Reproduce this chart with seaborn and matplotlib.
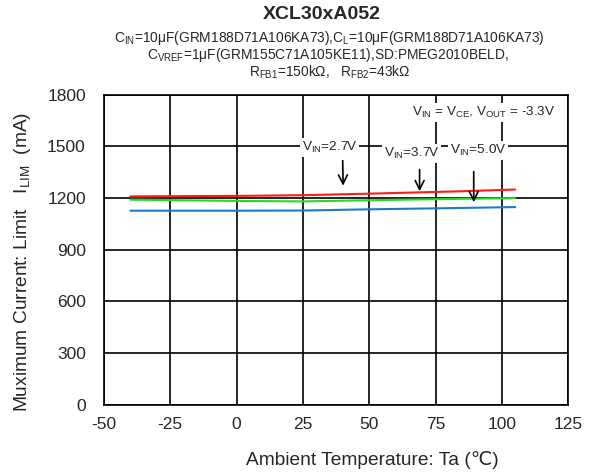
import numpy as np
import pandas as pd
import matplotlib
matplotlib.use("Agg")
import matplotlib.pyplot as plt
import seaborn as sns

# data
temp = [-40, 0, 25, 50, 85, 105]
ilim_27 = [1210, 1213, 1217, 1226, 1240, 1250]
ilim_37 = [1191, 1184, 1181, 1188, 1196, 1200]
ilim_50 = [1127, 1127, 1128, 1135, 1143, 1148]
series = ["2.7V", "3.7V", "5.0V"]
colors = ["#ff1a1a", "#22dd22", "#1a7ad0"]

df = pd.DataFrame({
    "Ta": temp * 3,
    "ILIM": ilim_27 + ilim_37 + ilim_50,
    "VIN": [series[0]] * 6 + [series[1]] * 6 + [series[2]] * 6,
})

sns.set_style("white")
plt.rcParams["font.family"] = ["Liberation Sans", "DejaVu Sans"]
plt.rcParams["mathtext.fontset"] = "custom"
plt.rcParams["mathtext.rm"] = "Liberation Sans"
plt.rcParams["axes.unicode_minus"] = False

fig = plt.figure(figsize=(5.9, 4.74), dpi=100)
ax = fig.add_axes([0.176, 0.146, 0.787, 0.654])

sns.lineplot(data=df, x="Ta", y="ILIM", hue="VIN", palette=colors,
             linewidth=1.5, legend=False, ax=ax, zorder=3)

ax.set_xlim(-50, 125)
ax.set_ylim(0, 1800)
ax.set_xticks(range(-50, 126, 25))
ax.set_yticks(range(0, 1801, 300))
ax.grid(True, color="black", linewidth=1.2)
for s in ax.spines.values():
    s.set_color("black")
    s.set_linewidth(1.2)
ax.tick_params(length=0, labelsize=12.5)
ax.tick_params(axis="y", pad=13)
ax.tick_params(axis="x", pad=9)
ax.set_xlabel("Ambient Temperature: Ta (\u2103)", fontsize=13.8)
ax.set_ylabel(r"Muximum Current: Limit   $\mathregular{I_{LIM}}$  (mA)", fontsize=13.8)
ax.xaxis.set_label_coords(0.578, -0.150)
ax.yaxis.set_label_coords(-0.152, 0.46)

box = dict(facecolor="white", edgecolor="none", pad=1.5)
ax.text(93, 1695, r"$\mathregular{V_{IN}}$ = $\mathregular{V_{CE}}$, $\mathregular{V_{OUT}}$ = -3.3V",
        ha="center", va="center", fontsize=9.7, bbox=box, zorder=4)
labels = [(35, 1492, 40, 1434, 40.2, 1256, "2.7V"),
          (66, 1457, 69, 1382, 69, 1224, "3.7V"),
          (91, 1477, 89.4, 1370, 89.4, 1160, "5.0V")]
for tx, ty, ax0, ay0, ax1, ay1, v in labels:
    ax.text(tx, ty, r"$\mathregular{V_{IN}}$=" + v, ha="center", va="center",
            fontsize=9.7, bbox=box, zorder=4)
    ax.annotate("", xy=(ax1, ay1), xytext=(ax0, ay0),
                arrowprops=dict(arrowstyle="->", color="black", lw=1.2,
                                mutation_scale=16), zorder=5)

fig.text(0.546, 0.969, "XCL30xA052", ha="center", va="center", fontsize=14, fontweight="bold")
fig.text(0.558, 0.920, r"$\mathregular{C_{IN}}$=10μF(GRM188D71A106KA73),$\mathregular{C_{L}}$=10μF(GRM188D71A106KA73)",
         ha="center", va="center", fontsize=9.9)
fig.text(0.556, 0.884, r"$\mathregular{C_{VREF}}$=1μF(GRM155C71A105KE11),SD:PMEG2010BELD,",
         ha="center", va="center", fontsize=9.9)
fig.text(0.559, 0.848, r"$\mathregular{R_{FB1}}$=150kΩ,   $\mathregular{R_{FB2}}$=43kΩ",
         ha="center", va="center", fontsize=9.9)

fig.savefig("out.png", dpi=100)
